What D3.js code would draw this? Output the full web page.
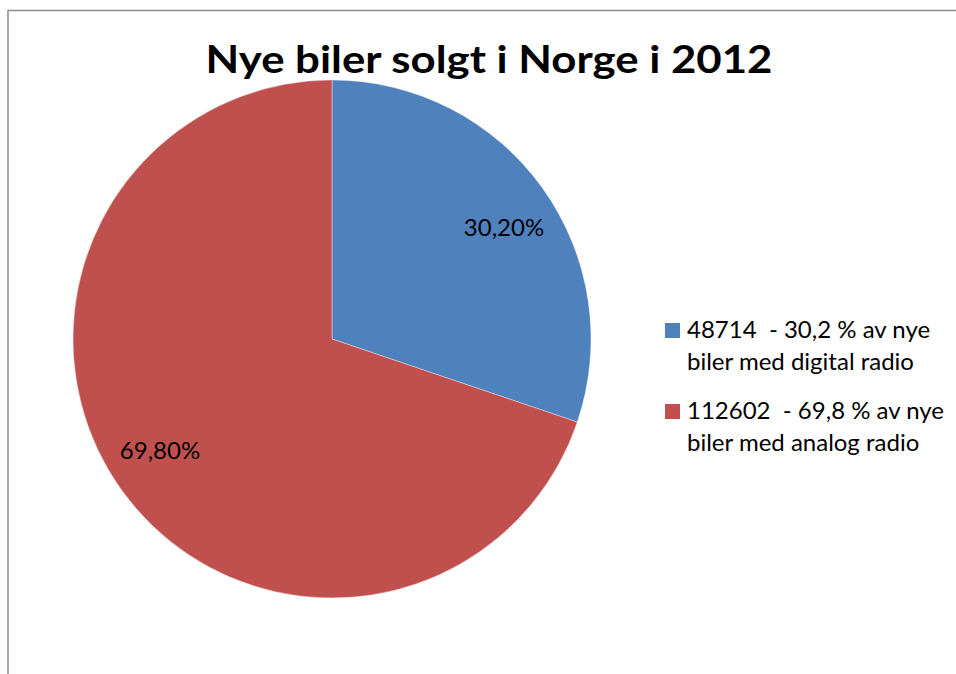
<!DOCTYPE html>
<html>
<head>
<meta charset="utf-8">
<script src="https://cdn.jsdelivr.net/npm/d3@7"></script>
<style>
  body { margin: 0; background: #fff; }
  svg { display: block; }
</style>
</head>
<body>
<svg id="pie_viz"></svg>
<script>
// Data
const title = "Nye biler solgt i Norge i 2012";
const counts = [48714, 112602];
const sliceLabels = ["30,20%", "69,80%"];
const legendLines = [
  ["48714  - 30,2 % av nye", "biler med digital radio"],
  ["112602  - 69,8 % av nye", "biler med analog radio"]
];
const colors = ["#4F81BD", "#C0504D"];

/*
 * Layout numbers for rendering
 */
const dimensions = {
  width: 956,
  height: 674,
  cx: 332,
  cy: 339,
  radius: 259,
  labelRadius: 205,
  labelTurn: 0.047, // Excel nudges the data labels a little clockwise
  legendX: 665,
  legendY: 323
};

const font = "Lato, 'Open Sans', sans-serif";

function chart(id) {
  const svg = d3.select('#' + id)
      .attr("width", dimensions.width)
      .attr("height", dimensions.height);

  // Chart frame (runs off the right and bottom edges)
  svg.append("rect")
      .attr("x", 8)
      .attr("y", 10.5)
      .attr("width", dimensions.width)
      .attr("height", dimensions.height)
      .attr("fill", "#fff")
      .attr("stroke", "#8c8c8c")
      .attr("stroke-width", 1.5);

  // Title
  svg.append("text")
      .attr("x", 489)
      .attr("y", 73)
      .attr("text-anchor", "middle")
      .attr("textLength", 567)
      .attr("lengthAdjust", "spacingAndGlyphs")
      .style("font-family", font)
      .style("font-weight", "bold")
      .style("font-size", "38px")
      .text(title);

  const pie = d3.pie().sort(null).value(d => d);
  const arcs = pie(counts);

  const arc = d3.arc()
      .innerRadius(0)
      .outerRadius(dimensions.radius);

  const labelArc = d3.arc()
      .innerRadius(dimensions.labelRadius)
      .outerRadius(dimensions.labelRadius);

  const g = svg.append("g")
      .attr("transform", `translate(${dimensions.cx}, ${dimensions.cy})`);

  g.selectAll("path")
      .data(arcs)
      .join("path")
      .attr("d", arc)
      .attr("fill", (d, i) => colors[i])
      .attr("stroke", "#fff")
      .attr("stroke-opacity", 0.5)
      .attr("stroke-width", 0.75);

  g.selectAll("text")
      .data(arcs)
      .join("text")
      .attr("transform", d => {
        const shifted = {
          startAngle: d.startAngle + dimensions.labelTurn,
          endAngle: d.endAngle + dimensions.labelTurn
        };
        return `translate(${labelArc.centroid(shifted)})`;
      })
      .attr("text-anchor", "middle")
      .attr("dy", "0.35em")
      .style("font-family", font)
      .style("font-size", "24px")
      .attr("fill", "#000")
      .text((d, i) => sliceLabels[i]);

  // Legend
  const legend = svg.append("g")
      .attr("transform", `translate(${dimensions.legendX}, ${dimensions.legendY})`);

  legendLines.forEach((lines, i) => {
    const item = legend.append("g")
        .attr("transform", `translate(0, ${i * 81})`);
    item.append("rect")
        .attr("width", 15)
        .attr("height", 15)
        .attr("fill", colors[i]);
    lines.forEach((line, j) => {
      item.append("text")
          .attr("x", 22)
          .attr("y", 15 + j * 32)
          .style("font-family", font)
          .style("font-size", "24px")
          .style("white-space", "pre")
          .text(line);
    });
  });
}

chart("pie_viz");
</script>
</body>
</html>
